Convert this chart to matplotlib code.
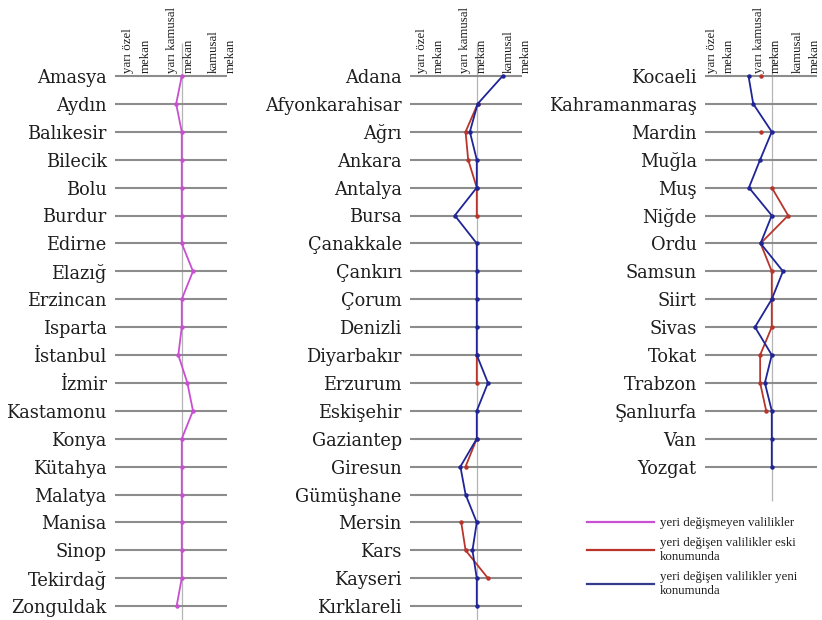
import matplotlib.pyplot as plt
import numpy as np

nan = np.nan

# column headers (yarı özel = 1, yarı kamusal = 2, kamusal = 3)
headers = ['yarı özel\nmekan', 'yarı kamusal\nmekan', 'kamusal\nmekan']

# panel 1: provinces whose position did not change
prov1 = ['Amasya', 'Aydın', 'Balıkesir', 'Bilecik', 'Bolu', 'Burdur', 'Edirne',
         'Elazığ', 'Erzincan', 'Isparta', 'İstanbul', 'İzmir', 'Kastamonu',
         'Konya', 'Kütahya', 'Malatya', 'Manisa', 'Sinop', 'Tekirdağ', 'Zonguldak']
same1 = [2.0, 1.87, 2.0, 2.0, 2.0, 2.0, 2.0, 2.26, 2.0, 2.0, 1.92, 2.13, 2.26,
         2.0, 2.0, 2.0, 2.0, 2.0, 2.0, 1.88]

# panel 2
prov2 = ['Adana', 'Afyonkarahisar', 'Ağrı', 'Ankara', 'Antalya', 'Bursa',
         'Çanakkale', 'Çankırı', 'Çorum', 'Denizli', 'Diyarbakır', 'Erzurum',
         'Eskişehir', 'Gaziantep', 'Giresun', 'Gümüşhane', 'Mersin', 'Kars',
         'Kayseri', 'Kırklareli']
old2 = [nan, 2.02, 1.74, 1.80, 2.0, 2.0, nan, nan, nan, nan, 2.0, 2.0, nan,
        2.0, 1.74, nan, 1.64, 1.74, 2.26, nan]
new2 = [2.6, 2.02, 1.84, 2.0, 2.0, 1.49, 2.0, 2.0, 2.0, 2.0, 2.0, 2.26, 2.0,
        2.0, 1.62, 1.74, 2.0, 1.9, 2.0, 2.0]

# panel 3
prov3 = ['Kocaeli', 'Kahramanmaraş', 'Mardin', 'Muğla', 'Muş', 'Niğde', 'Ordu',
         'Samsun', 'Siirt', 'Sivas', 'Tokat', 'Trabzon', 'Şanlıurfa', 'Van',
         'Yozgat']
old3 = [1.74, nan, 1.74, nan, 2.0, 2.38, 1.74, 2.0, 2.0, 2.0, 1.73, 1.73, 1.87,
        nan, nan]
new3 = [1.46, 1.57, 2.0, 1.73, 1.47, 2.0, 1.74, 2.26, 2.0, 1.61, 2.0, 1.84, 2.0,
        2.0, 2.0]

labels = ['yeri değişmeyen valilikler',
          'yeri değişen valilikler eski\nkonumunda',
          'yeri değişen valilikler yeni\nkonumunda']

c_same = '#c94fd2'
c_old = '#b8352b'
c_new = '#1f2597'
c_grid = '#8c8c8c'
c_text = '#1e1e1e'

plt.rcParams['font.family'] = ['DejaVu Serif']
small_font = ['Liberation Serif', 'DejaVu Serif']

W, H = 822, 620
fig = plt.figure(figsize=(W / 100, H / 100), dpi=100)

pitch = 27.9
top_px, bot_px, row0_px = 40, 620, 76
ylo = -(row0_px - top_px) / pitch
yhi = 19 + (bot_px - (row0_px + 19 * pitch)) / pitch


def panel(x0_px, names, series, hx):
    ax = fig.add_axes([x0_px / W, 1 - bot_px / H, 112 / W, (bot_px - top_px) / H])
    rows = np.arange(len(names))
    ax.hlines(rows, 0.45, 3.05, color=c_grid, lw=1.5, zorder=1)
    ax.vlines(2, -1.18, rows[-1] + (1.25 if len(names) < 20 else 0.6),
              color='#b5b5b5', lw=0.9, zorder=0)
    for vals, col, z in series:
        ax.plot(vals, rows, color=col, lw=1.3, marker='o', ms=2.2, zorder=z)
    for x, h in zip(hx, headers):
        ax.text(x, -0.1, h, rotation=90, ha='center', va='bottom',
                multialignment='left', fontsize=9.3, linespacing=1.55,
                color=c_text, family=small_font)
    ax.set_xlim(0.45, 3.05)
    ax.set_ylim(yhi, ylo)
    ax.set_yticks(rows)
    ax.set_yticklabels(names, fontsize=12.8, color=c_text)
    ax.tick_params(axis='y', length=0, pad=6)
    ax.set_xticks([])
    for s in ax.spines.values():
        s.set_visible(False)
    ax.patch.set_alpha(0)


panel(115, prov1, [(same1, c_same, 3)], [0.96, 1.96, 2.94])
panel(410, prov2, [(old2, c_old, 2), (new2, c_new, 3)], [0.92, 1.93, 2.94])
panel(705, prov3, [(old3, c_old, 2), (new3, c_new, 3)], [0.8, 1.9, 2.8])

handles = [plt.Line2D([], [], color=c, lw=1.6) for c in (c_same, c_old, '#343b8c')]
leg = fig.legend(handles, labels, loc='upper left',
                 bbox_to_anchor=(582 / W, 1 - 512 / H), frameon=False,
                 prop={'family': small_font, 'size': 9.3}, handlelength=5.2,
                 handletextpad=0.45, labelspacing=0.6, borderaxespad=0)
for t in leg.get_texts():
    t.set_linespacing(1.25)
    t.set_color(c_text)

plt.savefig('out.png', dpi=100)
